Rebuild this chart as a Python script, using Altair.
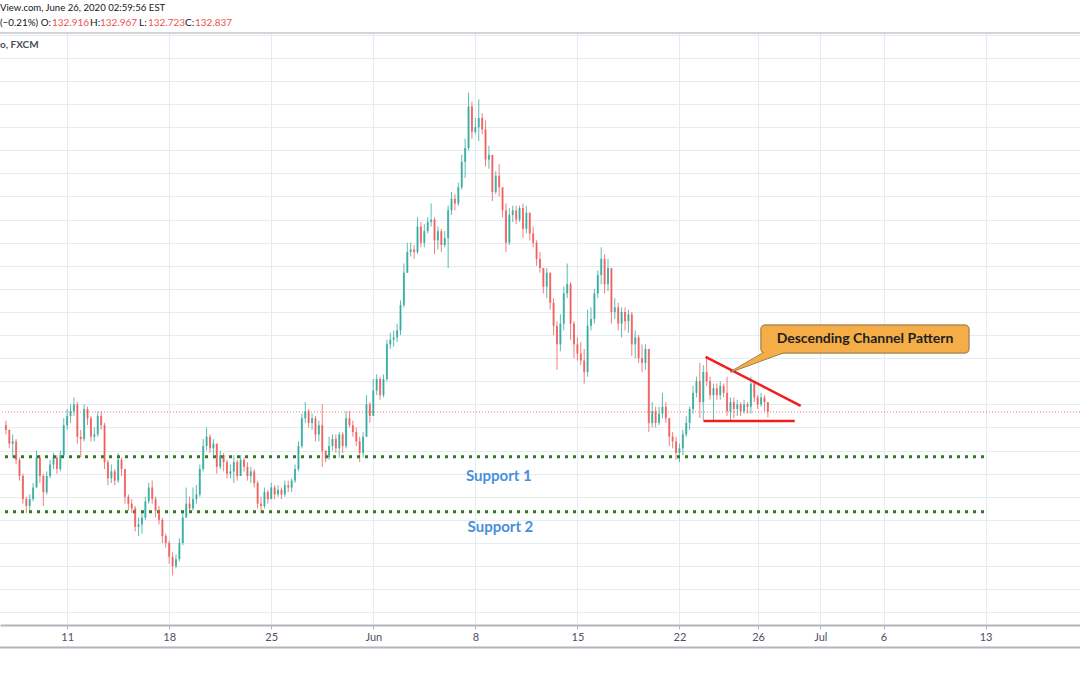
import altair as alt
import pandas as pd

# ---------------- data (4-hour candles) ----------------
first_open = 132.55
bars_per_day = 6
first_day = -3  # May 6, counted in trading days from Mon May 11

closes = [
    132.45, 132.15, 132.2, 131.8, 131.45, 130.95, 130.8, 130.95, 131.2, 131.85, 131.45, 131.1, 131.45, 131.7, 131.85, 131.6, 131.9, 132.55,
    132.75, 132.85, 133.0, 132.3, 132.25, 132.9, 132.7, 132.3, 132.35, 132.75, 132.55, 131.75, 131.4, 131.55, 131.35, 131.8, 131.6, 131.0, 130.85, 130.75, 130.35, 130.4, 130.55, 130.9, 131.2, 130.95, 130.7, 130.5, 130.15, 130.0,
    129.7, 129.5, 129.65, 130.0, 130.55, 130.85, 130.75, 130.95, 131.05, 131.6, 132.1, 132.3, 132.05, 132.15, 131.65, 131.9, 131.75, 131.5, 131.55, 131.75, 131.45, 131.8, 131.65, 131.45, 131.55, 131.3, 130.85, 130.8, 131.1, 130.95,
    131.2, 131.05, 131.15, 131.05, 131.25, 131.2, 131.35, 131.6, 132.1, 132.7, 132.85, 132.6, 132.7, 132.35, 132.55, 132.0, 131.85, 132.1, 132.25, 132.05, 132.35, 132.1, 132.7, 132.55, 132.4, 132.2, 131.95, 132.3, 133.0, 132.75,
    133.3, 133.55, 133.2, 133.55, 134.3, 134.4, 134.45, 134.6, 135.15, 135.85, 136.3, 136.35, 136.3, 136.85, 136.5, 136.75, 136.95, 137.0, 136.55, 136.75, 136.45, 136.6, 137.2, 137.45, 137.35, 137.7, 138.25, 138.55, 139.45, 138.9,
    139.0, 139.2, 138.95, 138.3, 138.4, 137.6, 137.95, 137.7, 137.2, 136.5, 137.1, 137.2, 137.0, 137.25, 136.8, 137.15, 136.7, 136.5, 136.15, 135.95, 135.55, 135.85, 135.2, 134.7, 134.3, 134.75, 135.4, 135.6, 134.75, 134.3,
    134.1, 133.95, 133.7, 134.7, 134.85, 135.4, 135.8, 136.15, 135.6, 135.95, 135.0, 135.1, 134.75, 135.0, 134.8, 134.95, 134.3, 134.45, 134.0, 133.9, 134.2, 132.6, 132.85, 132.6, 132.8, 132.95, 132.7, 132.3, 132.2, 131.95,
    132.05, 132.35, 132.6, 132.9, 133.25, 133.5, 133.05, 133.7, 133.5, 133.2, 133.35, 133.2, 133.4, 133.25, 132.85, 133.05, 132.9, 133.0, 132.85, 133.0, 132.95, 133.45, 133.15, 133.0,
    133.15, 133.05, 132.837,
]
highs = [
    132.65, 132.45, 132.35, 132.25, 131.85, 131.5, 131.0, 131.05, 131.3, 132.0, 131.9, 131.5, 131.55, 131.8, 131.95, 131.9, 132.0, 132.7,
    132.9, 133.0, 133.15, 133.05, 132.45, 133.0, 132.95, 132.75, 132.5, 132.85, 132.85, 132.6, 131.8, 131.7, 131.6, 131.95, 131.85, 131.6, 131.05, 130.95, 130.8, 130.55, 130.7, 131.0, 131.3, 131.35, 131.0, 130.8, 130.55, 130.2,
    130.05, 129.8, 129.75, 130.1, 130.65, 131.2, 131.0, 131.2, 131.25, 131.7, 132.25, 132.5, 132.35, 132.25, 132.15, 132.0, 131.95, 131.8, 131.7, 131.9, 131.8, 131.9, 131.85, 131.75, 131.65, 131.6, 131.35, 131.0, 131.2, 131.15,
    131.3, 131.25, 131.25, 131.2, 131.35, 131.35, 131.4, 131.7, 132.2, 132.8, 133.05, 132.9, 132.8, 132.75, 132.65, 133.0, 132.0, 132.3, 132.35, 132.35, 132.4, 132.4, 132.85, 132.85, 132.65, 132.5, 132.3, 132.4, 133.2, 133.05,
    133.55, 133.65, 133.6, 133.65, 134.4, 134.55, 134.6, 134.75, 135.25, 136.05, 136.5, 136.5, 136.45, 137.05, 136.95, 136.9, 137.05, 137.35, 137.05, 136.85, 136.8, 136.75, 137.3, 137.6, 137.55, 137.8, 138.4, 138.75, 139.75, 139.55,
    139.2, 139.6, 139.3, 139.15, 138.6, 138.2, 138.05, 138.2, 137.5, 137.35, 137.25, 137.3, 137.3, 137.3, 137.35, 137.3, 137.0, 136.85, 136.55, 136.3, 135.95, 135.95, 135.85, 135.3, 134.8, 134.95, 135.55, 136.05, 135.65, 134.8,
    134.45, 134.35, 134.2, 135.05, 135.1, 135.5, 135.9, 136.4, 136.25, 136.15, 135.95, 135.3, 135.2, 135.1, 135.1, 135.05, 135.0, 134.6, 134.5, 134.3, 134.3, 134.15, 133.05, 132.95, 132.95, 133.25, 133.05, 132.7, 132.4, 132.3,
    132.15, 132.45, 132.75, 132.95, 133.4, 133.6, 133.9, 133.85, 134.0, 133.6, 133.45, 133.45, 133.5, 133.45, 133.6, 133.15, 133.15, 133.1, 133.05, 133.1, 133.05, 133.6, 133.5, 133.2,
    133.25, 133.2, 132.967,
]
lows = [
    132.35, 132.05, 131.85, 131.7, 131.35, 130.85, 130.65, 130.7, 130.9, 131.2, 131.3, 130.8, 131.05, 131.4, 131.6, 131.5, 131.55, 131.85,
    132.45, 132.6, 132.75, 132.15, 131.85, 132.2, 132.55, 132.2, 132.2, 132.3, 132.45, 131.6, 131.25, 131.3, 131.25, 131.3, 131.45, 130.85, 130.7, 130.65, 130.25, 130.15, 130.2, 130.5, 130.85, 130.85, 130.55, 130.4, 130.0, 129.9,
    129.55, 129.3, 129.45, 129.6, 129.95, 130.6, 130.65, 130.7, 130.85, 131.0, 131.55, 132.0, 131.95, 131.9, 131.5, 131.6, 131.55, 131.4, 131.4, 131.3, 131.35, 131.45, 131.55, 131.35, 131.3, 131.2, 130.75, 130.65, 130.75, 130.85,
    130.95, 130.95, 131.0, 130.95, 131.0, 131.1, 131.1, 131.3, 131.55, 132.05, 132.6, 132.5, 132.45, 132.2, 132.2, 131.65, 131.75, 131.8, 132.0, 131.95, 131.85, 131.95, 132.05, 132.5, 132.3, 132.1, 131.75, 131.85, 132.3, 132.6,
    132.95, 133.2, 133.1, 133.15, 133.5, 134.2, 134.25, 134.35, 134.5, 135.1, 135.95, 136.2, 136.15, 136.25, 136.4, 136.4, 136.7, 136.85, 136.25, 136.35, 136.3, 136.4, 135.95, 137.1, 137.2, 137.3, 137.65, 137.9, 138.5, 138.75,
    138.85, 138.7, 138.85, 138.15, 138.1, 137.4, 137.55, 137.5, 137.05, 136.3, 136.45, 136.95, 136.9, 136.95, 136.6, 136.7, 136.55, 136.4, 136.0, 135.85, 135.4, 135.3, 135.05, 134.5, 133.75, 134.15, 134.6, 135.3, 134.4, 134.0,
    133.95, 133.85, 133.45, 133.6, 134.6, 134.75, 135.3, 135.6, 135.4, 135.45, 134.75, 134.85, 134.6, 134.45, 134.6, 134.55, 134.05, 134.0, 133.9, 133.7, 133.75, 132.4, 132.5, 132.5, 132.55, 132.7, 132.6, 132.1, 132.05, 131.8,
    131.75, 131.9, 132.3, 132.45, 132.8, 133.15, 132.7, 132.65, 133.4, 133.1, 132.65, 133.1, 133.1, 133.15, 132.75, 132.65, 132.7, 132.75, 132.75, 132.8, 132.8, 132.8, 133.05, 132.9,
    132.95, 132.85, 132.723,
]

tick_days = [0, 5, 10, 15, 20, 25, 30, 33.85, 36.9, 40, 45]
tick_labels = ["11", "18", "25", "Jun", "8", "15", "22", "26", "Jul", "6", "13"]
grid_prices = [128.5, 129.0, 129.5, 130.0, 130.5, 131.0, 131.5, 132.0, 132.5, 133.0, 133.5,
               134.0, 134.5, 135.0, 135.5, 136.0, 136.5, 137.0, 137.5, 138.0, 138.5, 139.0,
               139.5, 140.0, 140.5, 141.0]

last_price = 132.837
support_prices = [131.868, 130.678]
support_names = ["Support 1", "Support 2"]
support_label_day = [21.15, 21.23]
support_label_price = [131.45, 130.35]
support_end_day = 44.97

# annotation: descending channel (upper and lower boundary)
chan_t0 = [31.28, 31.18]
chan_p0 = [134.03, 132.64]
chan_t1 = [35.94, 35.65]
chan_p1 = [132.97, 132.64]

# callout box and its pointer
box_t = [33.99, 44.19]
box_p = [134.11, 134.72]
ptr_t = [32.49, 34.19, 35.16]
ptr_top = [133.70, 134.134, 134.134]
ptr_bot = [133.70, 133.976, 134.134]
callout_text = "Descending Channel Pattern"

# ---------------- build table ----------------
n = min(len(closes), len(highs), len(lows))
rows = []
prev = first_open
for k in range(n):
    o, c = prev, closes[k]
    h = max(highs[k], o, c)
    l = min(lows[k], o, c)
    rows.append({"t": first_day + k / bars_per_day, "open": o, "close": c,
                 "high": h, "low": l, "dir": "up" if c >= o else "down"})
    prev = c
candles = pd.DataFrame(rows)

X_DOM = [-3.044, 49.38]
Y_DOM = [128.225, 141.039]
xs = alt.Scale(domain=X_DOM, nice=False, zero=False)
ys = alt.Scale(domain=Y_DOM, nice=False, zero=False)

label_expr = "[" + ",".join("'%s'" % s for s in tick_labels) + "][indexof([" + \
    ",".join(str(v) for v in tick_days) + "], datum.value)]"

GRID = "#e4ebf1"
xaxis = alt.Axis(values=tick_days, labelExpr=label_expr, grid=True, gridColor=GRID,
                 domainColor="#b2b5be", domainWidth=2, tickColor="#b2b5be", tickSize=4,
                 labelColor="#4c525e", labelFont="Lato", labelFontSize=11, labelPadding=2,
                 labelOverlap=False, labelFlush=False, title=None)
yaxis = alt.Axis(values=grid_prices, grid=True, gridColor=GRID, labels=False, ticks=False,
                 domain=False, title=None)

color = alt.Color("dir:N", scale=alt.Scale(domain=["up", "down"], range=["#26a69a", "#ef5350"]),
                  legend=None)

wicks = alt.Chart(candles).mark_rule(strokeWidth=1, opacity=0.75).encode(
    x=alt.X("t:Q", scale=xs, axis=xaxis),
    y=alt.Y("low:Q", scale=ys, axis=yaxis),
    y2="high:Q",
    color=color,
)
bodies = alt.Chart(candles).mark_bar(size=2, opacity=0.75).encode(
    x=alt.X("t:Q", scale=xs, axis=xaxis),
    y=alt.Y("open:Q", scale=ys, axis=yaxis),
    y2="close:Q",
    color=color,
)

sup_df = pd.DataFrame({"p": support_prices, "t0": [X_DOM[0]] * 2, "t1": [support_end_day] * 2})
supports = alt.Chart(sup_df).mark_rule(strokeDash=[3, 5], strokeWidth=3, color="#2f7a1c").encode(
    x=alt.X("t0:Q", scale=xs, axis=xaxis), x2="t1:Q", y=alt.Y("p:Q", scale=ys, axis=yaxis))

sup_lab = pd.DataFrame({"t": support_label_day, "p": support_label_price, "s": support_names})
sup_text = alt.Chart(sup_lab).mark_text(font="Lato", fontWeight="bold", fontSize=15,
                                        color="#4a8fdc").encode(
    x=alt.X("t:Q", scale=xs, axis=xaxis), y=alt.Y("p:Q", scale=ys, axis=yaxis), text="s:N")

price_line = alt.Chart(pd.DataFrame({"p": [last_price]})).mark_rule(
    strokeDash=[1, 2], strokeWidth=1, color="#ef5350", opacity=0.8).encode(
    y=alt.Y("p:Q", scale=ys, axis=yaxis))

chan_df = pd.DataFrame({"t0": chan_t0, "p0": chan_p0, "t1": chan_t1, "p1": chan_p1})
channel = alt.Chart(chan_df).mark_rule(strokeWidth=2.5, color="#f21d1d").encode(
    x=alt.X("t0:Q", scale=xs, axis=xaxis), y=alt.Y("p0:Q", scale=ys, axis=yaxis),
    x2="t1:Q", y2="p1:Q")

ptr_df = pd.DataFrame({"t": ptr_t, "top": ptr_top, "bot": ptr_bot})
pointer_outline = alt.Chart(ptr_df).mark_area(color="#f5ad47", stroke="#8c6d3f",
                                              strokeWidth=1.5, interpolate="linear").encode(
    x=alt.X("t:Q", scale=xs, axis=xaxis), y=alt.Y("top:Q", scale=ys, axis=yaxis), y2="bot:Q")
pointer_fill = alt.Chart(ptr_df).mark_area(color="#f5ad47", interpolate="linear").encode(
    x=alt.X("t:Q", scale=xs, axis=xaxis), y=alt.Y("top:Q", scale=ys, axis=yaxis), y2="bot:Q")

box_df = pd.DataFrame({"t0": [box_t[0]], "t1": [box_t[1]], "p0": [box_p[0]], "p1": [box_p[1]]})
box = alt.Chart(box_df).mark_rect(cornerRadius=4, fill="#f5ad47", stroke="#8c6d3f",
                                  strokeWidth=1).encode(
    x=alt.X("t0:Q", scale=xs, axis=xaxis), x2="t1:Q",
    y=alt.Y("p0:Q", scale=ys, axis=yaxis), y2="p1:Q")

box_text = alt.Chart(pd.DataFrame({"t": [(box_t[0] + box_t[1]) / 2],
                                   "p": [(box_p[0] + box_p[1]) / 2],
                                   "s": [callout_text]})).mark_text(
    font="Lato", fontWeight="bold", fontSize=14, color="#1f1f1f").encode(
    x=alt.X("t:Q", scale=xs, axis=xaxis), y=alt.Y("p:Q", scale=ys, axis=yaxis), text="s:N")


def label(txt, x, y, color="#131722", weight="normal", size=10):
    return alt.Chart(pd.DataFrame({"s": [txt]})).mark_text(
        x=x, y=y, align="left", baseline="middle", font="Lato", fontSize=size,
        fontWeight=weight, color=color).encode(text="s:N")


RED = "#ef5350"
header = [
    label("View.com, June 26, 2020 02:59:56 EST", 0, -25, size=9.6),
    label("(\u22120.21%) O:", 0, -10, size=9.8),
    label("132.916", 52, -10, color=RED),
    label("H:", 90, -10),
    label("132.967", 100, -10, color=RED),
    label("L:", 139, -10),
    label("132.723", 148, -10, color=RED),
    label("C:", 185, -10),
    label("132.837", 195, -10, color=RED),
    label("o, FXCM", 0, 12, color="#4a4e59", weight="bold"),
]

frame_df = pd.DataFrame({"a": [0]})
top_line = alt.Chart(frame_df).mark_rule(color="#a4a7b0", strokeWidth=1).encode(
    x=alt.value(0), x2=alt.value(1080), y=alt.value(0))
bottom_line = alt.Chart(frame_df).mark_rule(color="#b2b5be", strokeWidth=2).encode(
    x=alt.value(0), x2=alt.value(1080), y=alt.value(614.5))

chart = alt.layer(
    wicks, supports, price_line, bodies, sup_text, channel,
    pointer_outline, box, pointer_fill, box_text,
    top_line, bottom_line, *header,
).properties(
    width=1080, height=592,
    padding={"left": 0, "top": 33, "right": 0, "bottom": 50},
    autosize=alt.AutoSizeParams(type="none"),
    background="white",
).configure_view(stroke=None)

chart.save("out.html", embed_options={"renderer": "svg", "actions": False})
